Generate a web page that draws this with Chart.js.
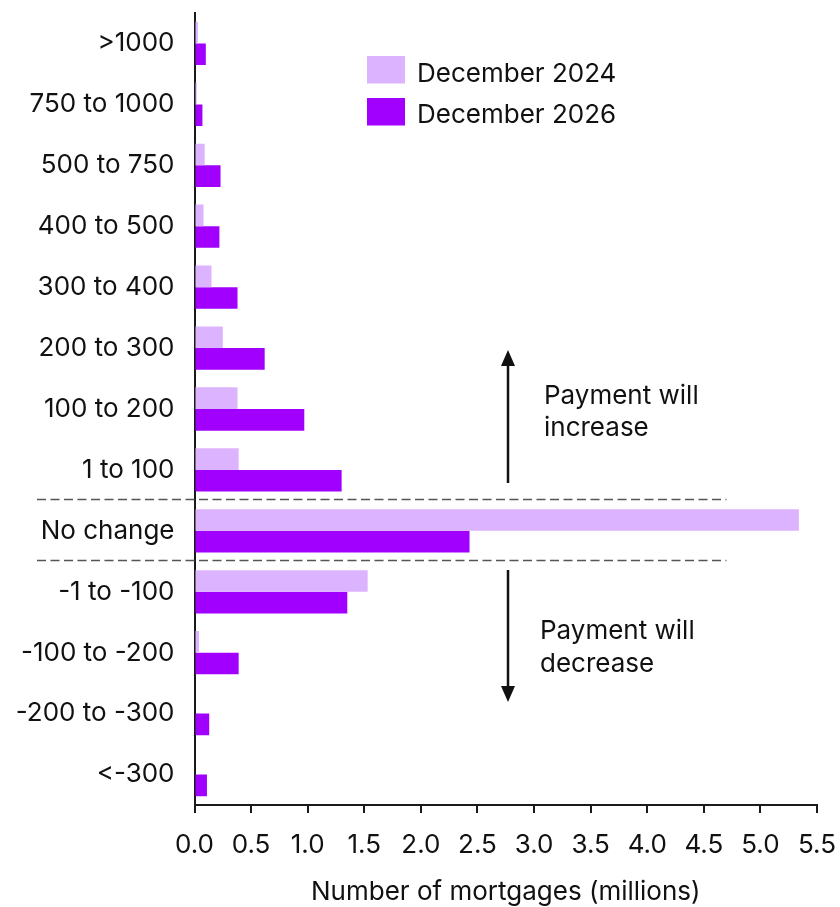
<!DOCTYPE html>
<html>
<head>
<meta charset="utf-8">
<script src="https://cdn.jsdelivr.net/npm/chart.js"></script>
<style>
  html, body { margin: 0; padding: 0; background: #fff; }
  #wrap { width: 840px; height: 907px; }
</style>
</head>
<body>
<div id="wrap"><canvas id="chart" width="840" height="907"></canvas></div>
<script>
// Monthly payment change buckets (top to bottom)
const categories = [
  '>1000', '750 to 1000', '500 to 750', '400 to 500', '300 to 400',
  '200 to 300', '100 to 200', '1 to 100', 'No change',
  '-1 to -100', '-100 to -200', '-200 to -300', '<-300'
];
const dec2024 = [0.03, 0.02, 0.09, 0.08, 0.15, 0.25, 0.38, 0.39, 5.34, 1.53, 0.04, 0, 0];
const dec2026 = [0.10, 0.07, 0.23, 0.22, 0.38, 0.62, 0.97, 1.30, 2.43, 1.35, 0.39, 0.13, 0.11];
const xTicks = [0, 0.5, 1, 1.5, 2, 2.5, 3, 3.5, 4, 4.5, 5, 5.5];

const FONT = 'Inter, "Noto Sans", sans-serif';
const FSIZE = 26;
const LIGHT = '#dcb3ff';
const DARK = '#a100ff';

// dashed separators, arrows, notes and legend
const extras = {
  id: 'extras',
  afterDraw(chart) {
    const ctx = chart.ctx;
    const x = chart.scales.x, y = chart.scales.y;
    ctx.save();

    // dashed lines around "No change"
    ctx.strokeStyle = '#555';
    ctx.lineWidth = 1.5;
    ctx.setLineDash([9, 4.5]);
    [7.5, 8.5].forEach(v => {
      const py = Math.round(y.getPixelForValue(v)) - 0.5;
      ctx.beginPath();
      ctx.moveTo(37, py);
      ctx.lineTo(x.getPixelForValue(4.7), py);
      ctx.stroke();
    });
    ctx.setLineDash([]);

    // arrows
    const ax = x.getPixelForValue(2.77);
    function arrow(y0, y1) {
      const dir = y1 < y0 ? -1 : 1;
      ctx.strokeStyle = '#111';
      ctx.fillStyle = '#111';
      ctx.lineWidth = 2.5;
      ctx.beginPath();
      ctx.moveTo(ax, y0);
      ctx.lineTo(ax, y1 - dir * 12);
      ctx.stroke();
      ctx.beginPath();
      ctx.moveTo(ax, y1);
      ctx.lineTo(ax - 7, y1 - dir * 16);
      ctx.lineTo(ax + 7, y1 - dir * 16);
      ctx.closePath();
      ctx.fill();
    }
    arrow(483, 350);
    arrow(570, 702);

    ctx.font = FSIZE + 'px ' + FONT;
    ctx.fillStyle = '#111';
    ctx.textAlign = 'left';
    ctx.textBaseline = 'alphabetic';
    ctx.fillText('Payment will', 544, 404);
    ctx.fillText('increase', 544, 436);
    ctx.fillText('Payment will', 540, 639);
    ctx.fillText('decrease', 540, 672);

    // legend
    const items = chart.data.datasets;
    const rows = [[56, 82], [98, 123]];
    items.forEach((ds, i) => {
      ctx.fillStyle = ds.backgroundColor;
      ctx.fillRect(367, rows[i][0], 38, 27.5);
      ctx.fillStyle = '#111';
      ctx.fillText(ds.label, 417, rows[i][1]);
    });

    ctx.restore();
  }
};

new Chart(document.getElementById('chart'), {
  type: 'bar',
  data: {
    labels: categories,
    datasets: [
      { label: 'December 2024', data: dec2024, backgroundColor: LIGHT },
      { label: 'December 2026', data: dec2026, backgroundColor: DARK }
    ]
  },
  options: {
    indexAxis: 'y',
    responsive: false,
    animation: false,
    devicePixelRatio: 1,
    layout: { padding: { top: 13, right: 23, bottom: 0, left: 0 } },
    datasets: { bar: { barPercentage: 1, categoryPercentage: 0.71 } },
    plugins: { legend: { display: false }, tooltip: { enabled: false } },
    scales: {
      x: {
        min: 0,
        max: 5.5,
        afterBuildTicks(s) { s.ticks = xTicks.map(v => ({ value: v })); },
        afterFit(s) { s.height = 102; s.paddingLeft = 0; s.paddingRight = 0; },
        grid: { display: true, drawOnChartArea: false, drawTicks: true, tickLength: 8, color: '#1a1a1a', lineWidth: 2 },
        border: { display: true, color: '#1a1a1a', width: 2 },
        ticks: {
          padding: 17,
          color: '#111',
          font: { family: FONT, size: FSIZE },
          maxRotation: 0,
          callback: v => Number(v).toFixed(1)
        },
        title: {
          display: true,
          text: 'Number of mortgages (millions)',
          color: '#111',
          font: { family: FONT, size: FSIZE },
          padding: { top: 0, bottom: -1 }
        }
      },
      y: {
        afterFit(s) { s.width = 194.5; s.paddingTop = 0; s.paddingBottom = 0; },
        grid: { display: false, drawTicks: false },
        border: { display: true, color: '#1a1a1a', width: 2 },
        ticks: {
          padding: 20,
          color: '#111',
          font: { family: FONT, size: FSIZE }
        }
      }
    }
  },
  plugins: [extras]
});
</script>
</body>
</html>
